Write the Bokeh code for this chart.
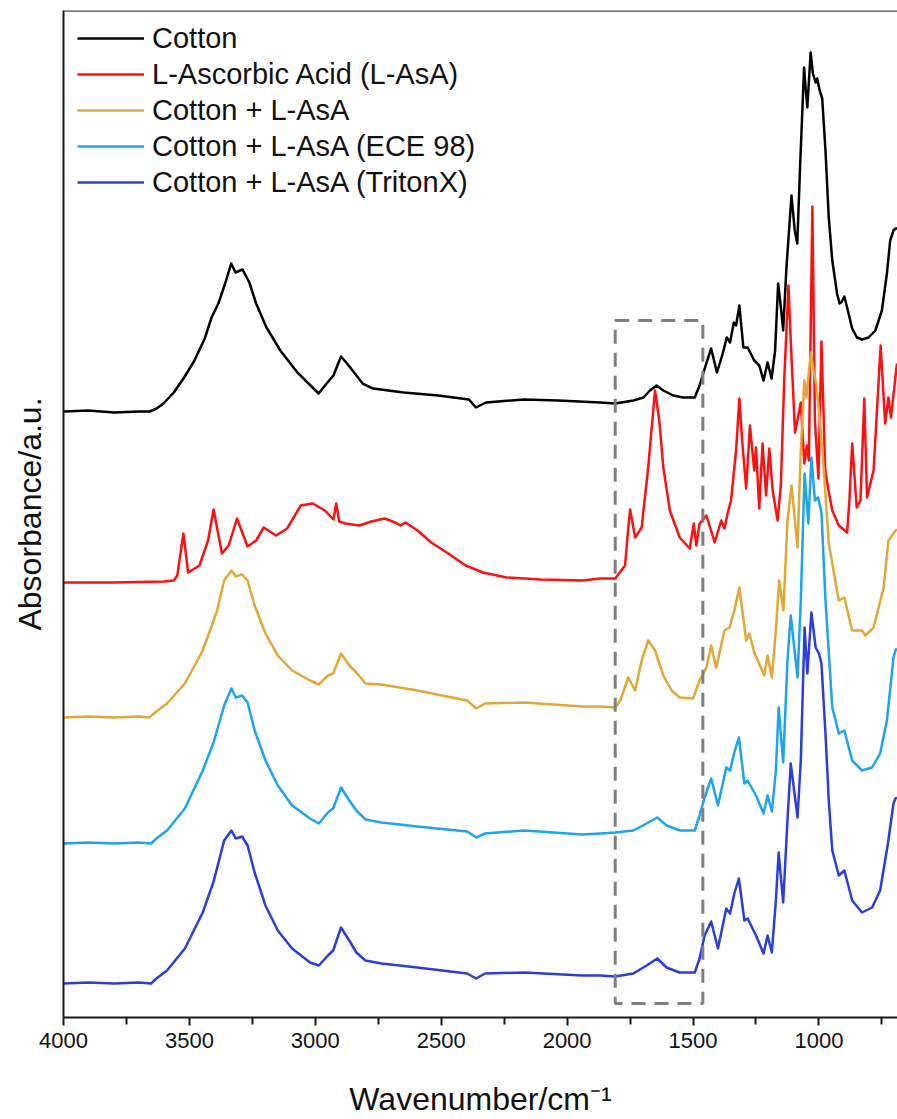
from bokeh.plotting import figure
from bokeh.models import Range1d, FixedTicker, Span
from bokeh.embed import file_html
from bokeh.resources import INLINE

# ---------------- data (stacked absorbance, a.u.) ----------------
wn_cotton = [4000, 3900, 3800, 3700, 3657, 3630, 3603, 3562, 3521, 3480, 3439, 3412, 3385, 3358, 3334,
             3317, 3289, 3262, 3235, 3194, 3139, 3071, 2987, 2955, 2928, 2898, 2874, 2846, 2812, 2771,
             2649, 2512, 2390, 2362, 2322, 2172, 2035, 1868, 1809, 1737, 1697, 1671, 1645, 1618, 1579,
             1539, 1493, 1474, 1450, 1428, 1405, 1382, 1366, 1353, 1338, 1329, 1316, 1300, 1283, 1257,
             1237, 1220, 1204, 1188, 1174, 1162, 1151, 1142, 1129, 1109, 1096, 1086, 1075, 1059, 1053,
             1046, 1033, 1024, 1013, 1007, 997, 987, 974, 961, 947, 928, 918, 911, 899, 888,
             868, 849, 829, 803, 776, 750, 730, 717, 704, 696, 688]
abs_cotton = [0.606, 0.607, 0.605, 0.606, 0.606, 0.609, 0.614, 0.625, 0.640, 0.657, 0.679, 0.700, 0.714, 0.734, 0.754,
              0.745, 0.748, 0.735, 0.714, 0.690, 0.667, 0.645, 0.624, 0.634, 0.642, 0.661, 0.654, 0.645, 0.634, 0.629,
              0.625, 0.622, 0.618, 0.610, 0.615, 0.618, 0.617, 0.615, 0.614, 0.617, 0.620, 0.627, 0.632, 0.627, 0.622,
              0.620, 0.620, 0.632, 0.652, 0.669, 0.645, 0.664, 0.680, 0.675, 0.695, 0.692, 0.712, 0.670, 0.670, 0.657,
              0.652, 0.637, 0.655, 0.639, 0.667, 0.734, 0.710, 0.687, 0.750, 0.822, 0.787, 0.774, 0.850, 0.950, 0.930,
              0.910, 0.965, 0.944, 0.935, 0.939, 0.927, 0.919, 0.867, 0.800, 0.757, 0.724, 0.714, 0.715, 0.721, 0.710,
              0.689, 0.680, 0.678, 0.680, 0.687, 0.707, 0.744, 0.777, 0.787, 0.789, 0.789]

wn_asa = [4000, 3800, 3600, 3562, 3548, 3524, 3505, 3460, 3426, 3404, 3371, 3344, 3311, 3269, 3235,
          3205, 3156, 3112, 3058, 3010, 2962, 2928, 2917, 2905, 2880, 2826, 2778, 2724, 2683, 2662,
          2642, 2594, 2540, 2472, 2403, 2335, 2240, 2103, 1940, 1868, 1809, 1770, 1757, 1750, 1730,
          1704, 1678, 1651, 1634, 1618, 1592, 1553, 1513, 1497, 1487, 1474, 1447, 1414, 1388, 1375,
          1362, 1349, 1329, 1316, 1305, 1289, 1274, 1257, 1250, 1237, 1224, 1210, 1197, 1184, 1164,
          1151, 1138, 1121, 1112, 1095, 1072, 1058, 1048, 1040, 1026, 1016, 1002, 990, 975, 962,
          947, 921, 888, 879, 868, 850, 835, 820, 809, 783, 755, 737, 724, 714, 690]
abs_asa = [0.435, 0.435, 0.436, 0.437, 0.442, 0.484, 0.445, 0.452, 0.477, 0.508, 0.464, 0.472, 0.499, 0.471, 0.477,
           0.490, 0.482, 0.489, 0.512, 0.514, 0.507, 0.498, 0.514, 0.496, 0.494, 0.492, 0.496, 0.499, 0.495, 0.492,
           0.495, 0.487, 0.475, 0.464, 0.452, 0.445, 0.440, 0.438, 0.437, 0.439, 0.439, 0.452, 0.490, 0.508, 0.480,
           0.490, 0.550, 0.627, 0.597, 0.550, 0.507, 0.480, 0.469, 0.494, 0.472, 0.494, 0.502, 0.475, 0.497, 0.489,
           0.505, 0.517, 0.567, 0.619, 0.577, 0.529, 0.592, 0.547, 0.570, 0.509, 0.574, 0.522, 0.569, 0.527, 0.497,
           0.534, 0.637, 0.732, 0.677, 0.585, 0.615, 0.554, 0.572, 0.557, 0.811, 0.597, 0.539, 0.676, 0.547, 0.527,
           0.507, 0.492, 0.485, 0.517, 0.574, 0.510, 0.517, 0.619, 0.520, 0.547, 0.672, 0.594, 0.620, 0.600, 0.654]

wn_mix = [4000, 3900, 3800, 3700, 3660, 3631, 3589, 3518, 3447, 3404, 3390, 3362, 3333, 3316, 3291,
          3269, 3241, 3198, 3149, 3092, 3021, 2986, 2950, 2929, 2898, 2865, 2837, 2801, 2737, 2595,
          2397, 2361, 2326, 2170, 1940, 1868, 1809, 1789, 1757, 1730, 1704, 1678, 1651, 1618, 1585,
          1553, 1500, 1474, 1447, 1428, 1408, 1375, 1355, 1336, 1316, 1289, 1276, 1257, 1217, 1204,
          1187, 1171, 1158, 1141, 1125, 1109, 1085, 1072, 1058, 1050, 1032, 1020, 1010, 1000, 984,
          961, 921, 899, 868, 829, 816, 783, 763, 743, 724, 696, 690]
abs_mix = [0.300, 0.301, 0.300, 0.301, 0.300, 0.306, 0.314, 0.334, 0.367, 0.397, 0.407, 0.437, 0.447, 0.441, 0.443,
           0.437, 0.412, 0.384, 0.362, 0.347, 0.337, 0.333, 0.342, 0.344, 0.364, 0.352, 0.345, 0.334, 0.333, 0.327,
           0.317, 0.309, 0.314, 0.315, 0.311, 0.311, 0.310, 0.317, 0.340, 0.327, 0.357, 0.377, 0.367, 0.342, 0.327,
           0.320, 0.319, 0.337, 0.350, 0.372, 0.350, 0.387, 0.390, 0.407, 0.430, 0.377, 0.384, 0.365, 0.342, 0.362,
           0.340, 0.387, 0.437, 0.407, 0.497, 0.532, 0.470, 0.567, 0.637, 0.620, 0.665, 0.645, 0.632, 0.607, 0.560,
           0.474, 0.417, 0.420, 0.387, 0.387, 0.382, 0.390, 0.410, 0.430, 0.477, 0.487, 0.488]

wn_ece = [4000, 3900, 3800, 3700, 3652, 3631, 3589, 3518, 3447, 3404, 3362, 3333, 3316, 3291, 3269,
          3241, 3198, 3149, 3092, 3021, 2986, 2950, 2929, 2898, 2865, 2837, 2801, 2737, 2595, 2397,
          2361, 2326, 2170, 1940, 1868, 1809, 1737, 1684, 1642, 1605, 1553, 1493, 1474, 1454, 1428,
          1401, 1368, 1353, 1336, 1318, 1296, 1283, 1250, 1220, 1204, 1187, 1171, 1160, 1142, 1125,
          1112, 1085, 1072, 1057, 1042, 1030, 1016, 1003, 990, 974, 947, 921, 899, 868, 829,
          789, 757, 730, 704, 696, 690]
abs_ece = [0.174, 0.175, 0.174, 0.175, 0.174, 0.179, 0.187, 0.209, 0.247, 0.275, 0.312, 0.329, 0.320, 0.322, 0.315,
           0.287, 0.257, 0.232, 0.212, 0.199, 0.194, 0.205, 0.209, 0.230, 0.217, 0.207, 0.198, 0.195, 0.191, 0.186,
           0.180, 0.184, 0.187, 0.183, 0.184, 0.185, 0.187, 0.194, 0.200, 0.192, 0.187, 0.187, 0.202, 0.220, 0.239,
           0.212, 0.250, 0.247, 0.265, 0.280, 0.234, 0.237, 0.222, 0.204, 0.222, 0.206, 0.247, 0.310, 0.255, 0.357,
           0.402, 0.340, 0.417, 0.544, 0.494, 0.560, 0.517, 0.520, 0.505, 0.417, 0.310, 0.284, 0.287, 0.257, 0.247,
           0.250, 0.264, 0.297, 0.360, 0.367, 0.369]

wn_triton = [4000, 3900, 3800, 3700, 3652, 3631, 3589, 3518, 3447, 3404, 3362, 3333, 3316, 3291, 3269,
             3241, 3198, 3149, 3092, 3021, 2986, 2950, 2929, 2898, 2865, 2837, 2801, 2737, 2595, 2397,
             2361, 2326, 2170, 1940, 1868, 1809, 1737, 1684, 1642, 1605, 1553, 1493, 1474, 1454, 1428,
             1401, 1368, 1353, 1336, 1318, 1296, 1283, 1250, 1220, 1204, 1187, 1171, 1160, 1142, 1125,
             1112, 1085, 1072, 1057, 1046, 1030, 1013, 1000, 990, 974, 961, 947, 921, 899, 868,
             829, 789, 757, 726, 704, 696, 690]
abs_triton = [0.034, 0.035, 0.034, 0.035, 0.034, 0.039, 0.047, 0.069, 0.105, 0.136, 0.177, 0.187, 0.179, 0.181, 0.172,
              0.145, 0.112, 0.087, 0.069, 0.055, 0.052, 0.062, 0.067, 0.090, 0.077, 0.065, 0.057, 0.054, 0.050, 0.044,
              0.039, 0.044, 0.045, 0.042, 0.042, 0.041, 0.044, 0.052, 0.059, 0.050, 0.045, 0.045, 0.059, 0.082, 0.096,
              0.069, 0.109, 0.104, 0.124, 0.139, 0.097, 0.099, 0.082, 0.064, 0.082, 0.065, 0.117, 0.165, 0.115, 0.197,
              0.254, 0.200, 0.257, 0.390, 0.344, 0.405, 0.370, 0.364, 0.354, 0.284, 0.217, 0.167, 0.142, 0.147, 0.117,
              0.105, 0.110, 0.127, 0.174, 0.214, 0.219, 0.220]

series_labels = ["Cotton", "L-Ascorbic Acid (L-AsA)", "Cotton + L-AsA",
                 "Cotton + L-AsA (ECE 98)", "Cotton + L-AsA (TritonX)"]
series_colors = ["#000000", "#ff1010", "#e1a838", "#1ea3ef", "#2b3ddc"]

x_ticks = [4000, 3500, 3000, 2500, 2000, 1500, 1000]
x_minor = [3750, 3250, 2750, 2250, 1750, 1250, 750]

box_wn = [1809, 1461]
box_abs = [0.014, 0.697]

Y_TOP = 1.007

# ---------------- figure ----------------
FONT = "Liberation Sans"

p = figure(width=897, height=1119,
           x_range=Range1d(4000, 688), y_range=Range1d(0, Y_TOP),
           output_backend="svg", toolbar_location=None,
           min_border_left=63, min_border_right=0, min_border_top=10, min_border_bottom=102,
           x_axis_label="Wavenumber/cm\u207b\u00b9", y_axis_label="Absorbance/a.u.")
p.grid.visible = False
p.outline_line_color = None
p.background_fill_color = "white"

xs = [wn_cotton, wn_asa, wn_mix, wn_ece, wn_triton]
ys = [abs_cotton, abs_asa, abs_mix, abs_ece, abs_triton]
for x, y, lab, col in zip(xs, ys, series_labels, series_colors):
    p.line(x, y, line_color=col, line_width=2.5, legend_label=lab, line_join="round")

p.quad(left=[box_wn[0]], right=[box_wn[1]], bottom=[box_abs[0]], top=[box_abs[1]],
       fill_color=None, line_color="#7f7f7f", line_width=3, line_dash="14 9")

# top border of the frame
p.add_layout(Span(location=Y_TOP, dimension="width", line_color="#4a4a4a", line_width=2.5))

# x axis
xa = p.xaxis[0]
xa.ticker = FixedTicker(ticks=x_ticks, minor_ticks=x_minor)
xa.axis_line_width = 2
xa.axis_line_color = "#1a1a1a"
xa.major_tick_line_width = 2
xa.minor_tick_line_width = 2
xa.major_tick_line_color = "#1a1a1a"
xa.minor_tick_line_color = "#1a1a1a"
xa.major_tick_out = 8
xa.major_tick_in = 0
xa.minor_tick_out = 7
xa.minor_tick_in = 0
xa.major_label_text_font = FONT
xa.major_label_text_font_size = "22px"
xa.major_label_text_color = "#111111"
xa.major_label_standoff = 7
xa.axis_label_text_font = FONT
xa.axis_label_text_font_size = "32px"
xa.axis_label_text_font_style = "normal"
xa.axis_label_text_color = "#111111"
xa.axis_label_standoff = 30

# y axis (no ticks)
ya = p.yaxis[0]
ya.ticker = FixedTicker(ticks=[])
ya.axis_line_width = 2
ya.axis_line_color = "#1a1a1a"
ya.major_tick_out = 0
ya.minor_tick_out = 0
ya.major_label_text_font_size = "0px"
ya.axis_label_text_font = FONT
ya.axis_label_text_font_size = "32px"
ya.axis_label_text_font_style = "normal"
ya.axis_label_text_color = "#111111"
ya.axis_label_standoff = 16

# legend
lg = p.legend[0]
lg.location = (14, 817)
lg.border_line_color = None
lg.background_fill_alpha = 0
lg.label_text_font = FONT
lg.label_text_font_size = "29px"
lg.label_text_color = "#111111"
lg.glyph_width = 67
lg.glyph_height = 36
lg.label_standoff = 8
lg.label_height = 36
lg.margin = 0
lg.padding = 0
lg.spacing = 0

open("out.html", "w").write(file_html(p, INLINE))
